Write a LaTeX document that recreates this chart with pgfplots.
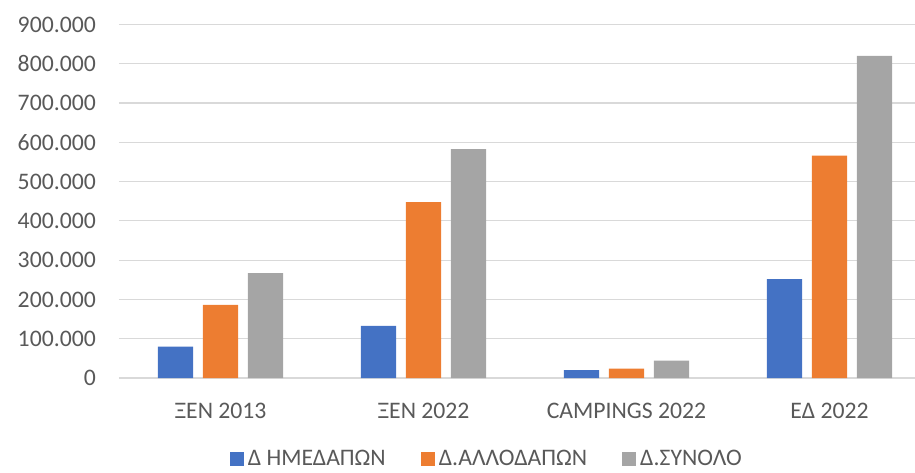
\documentclass[border=0pt]{standalone}
\usepackage{pgfplots}
\pgfplotsset{compat=1.18}
\usepackage{fontspec}
\setmainfont{Carlito}
\definecolor{cblue}{HTML}{4472C4}
\definecolor{corange}{HTML}{ED7D31}
\definecolor{cgray}{HTML}{A5A5A5}
\definecolor{ctext}{HTML}{595959}
\definecolor{cgrid}{HTML}{D9D9D9}
\begin{document}
\begin{tikzpicture}
\begin{axis}[
  scale only axis, width=796pt, height=353.5pt,
  at={(0pt,0pt)}, anchor=south west,
  xmin=-0.5, xmax=3.421, ymin=0, ymax=900000,
  ybar=9.7pt, bar width=35.3pt,
  xtick={0,1,2,3},
  xticklabels={ΞΕΝ 2013, ΞΕΝ 2022, CAMPINGS 2022, ΕΔ 2022},
  ytick={0,100000,200000,300000,400000,500000,600000,700000,800000,900000},
  scaled y ticks=false,
  /pgf/number format/assume math mode=true,
  yticklabel={\pgfmathprintnumber[fixed,1000 sep={.}]{\tick}},
  axis line style={draw=none},
  major tick length=0pt,
  ymajorgrids, major grid style={cgrid, line width=1.2pt},
  tick label style={font=\fontsize{23.7}{26}\selectfont, text=ctext},
  yticklabel style={anchor=east, inner sep=0pt, xshift=-23pt},
  xticklabel style={anchor=base, inner sep=0pt, yshift=-40.5pt},
  legend style={at={(0.462,-0.229)}, anchor=center, draw=none, fill=none,
    font=\fontsize{23.7}{26}\selectfont, text=ctext,
    inner sep=1pt,
    legend columns=3,
    /tikz/every even column/.append style={column sep=33pt}},
  legend image code/.code={\fill[#1,draw=none] (0pt,-7pt) rectangle (14pt,7pt); \path (16pt,0pt);},
  clip=false,
]
\addplot[fill=cblue, draw=none] coordinates {(0,80000) (1,133000) (2,20000) (3,252000)};
\addplot[fill=corange, draw=none] coordinates {(0,186000) (1,448000) (2,24000) (3,566000)};
\addplot[fill=cgray, draw=none] coordinates {(0,267000) (1,583000) (2,44000) (3,820000)};
\legend{Δ ΗΜΕΔΑΠΩΝ, Δ.ΑΛΛΟΔΑΠΩΝ, Δ.ΣΥΝΟΛΟ}
\end{axis}
\pgfresetboundingbox
\useasboundingbox (-119pt,-94pt) rectangle (796pt,378pt);
\end{tikzpicture}
\end{document}
